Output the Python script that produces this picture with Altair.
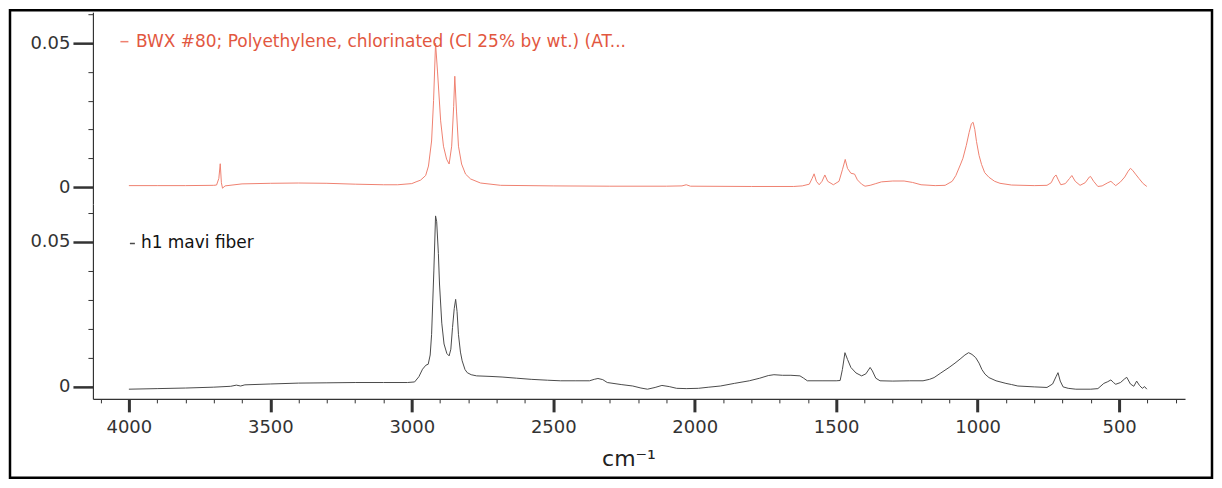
import altair as alt
import pandas as pd

# ---------------- data ----------------
red_name = "BWX #80; Polyethylene, chlorinated (Cl 25% by wt.) (AT..."
blk_name = "h1 mavi fiber"

red_wn = [4000, 3900, 3800, 3700, 3690, 3682, 3677, 3673, 3669, 3660, 3600, 3500, 3400, 3300,
          3200, 3100, 3050, 3000, 2985, 2969, 2951, 2941, 2930, 2923, 2916, 2909, 2898, 2888,
          2877, 2868, 2859, 2852, 2848, 2842, 2835, 2824, 2810, 2792, 2757, 2686, 2500, 2300,
          2100, 2045, 2030, 2015, 1800, 1650, 1620, 1595, 1585, 1578, 1570, 1560, 1550, 1540,
          1530, 1510, 1490, 1478, 1468, 1460, 1448, 1435, 1425, 1410, 1398, 1380, 1360, 1340,
          1300, 1260, 1230, 1200, 1150, 1115, 1090, 1077, 1060, 1052, 1040, 1030, 1022, 1016,
          1010, 1004, 995, 986, 975, 960, 940, 921, 880, 800, 755, 740, 730, 723, 715, 706, 690,
          675, 667, 655, 638, 620, 605, 601, 590, 575, 560, 540, 529, 520, 512, 495, 480, 468,
          460, 452, 442, 430, 415, 402]
red_abs = [0.0005, 0.0005, 0.0005, 0.0006, 0.0007, 0.0030, 0.0081, 0.0015, -0.0004, 0.0004,
           0.0011, 0.0013, 0.0014, 0.0013, 0.0010, 0.0008, 0.0008, 0.0012, 0.0018, 0.0024,
           0.0040, 0.0073, 0.0160, 0.0300, 0.0500, 0.0400, 0.0230, 0.0142, 0.0097, 0.0080,
           0.0142, 0.0280, 0.0385, 0.0264, 0.0142, 0.0080, 0.0045, 0.0028, 0.0014, 0.0006,
           0.0004, 0.0003, 0.0003, 0.0004, 0.0008, 0.0003, 0.0002, 0.0002, 0.0004, 0.0010,
           0.0030, 0.0046, 0.0020, 0.0008, 0.0020, 0.0042, 0.0020, 0.0008, 0.0020, 0.0060,
           0.0096, 0.0065, 0.0048, 0.0045, 0.0025, 0.0010, 0.0003, 0.0006, 0.0012, 0.0018,
           0.0021, 0.0021, 0.0016, 0.0008, 0.0005, 0.0006, 0.0020, 0.0040, 0.0080, 0.0100,
           0.0145, 0.0190, 0.0220, 0.0225, 0.0200, 0.0158, 0.0110, 0.0078, 0.0050, 0.0034,
           0.0020, 0.0013, 0.0007, 0.0005, 0.0006, 0.0015, 0.0035, 0.0042, 0.0025, 0.0008,
           0.0012, 0.0030, 0.0040, 0.0020, 0.0006, 0.0015, 0.0035, 0.0037, 0.0020, 0.0002,
           0.0004, 0.0015, 0.0020, 0.0012, 0.0005, 0.0018, 0.0035, 0.0055, 0.0065, 0.0058,
           0.0045, 0.0030, 0.0012, 0.0002]

blk_wn = [4000, 3900, 3800, 3700, 3640, 3620, 3605, 3590, 3500, 3400, 3300, 3200, 3100, 3015,
          2990, 2975, 2962, 2950, 2942, 2935, 2930, 2922, 2916, 2912, 2906, 2902, 2894, 2886,
          2876, 2868, 2862, 2856, 2850, 2845, 2840, 2835, 2828, 2822, 2812, 2804, 2790, 2771,
          2720, 2681, 2630, 2578, 2520, 2475, 2420, 2372, 2355, 2342, 2325, 2309, 2260, 2219,
          2190, 2167, 2140, 2116, 2090, 2064, 2030, 1987, 1950, 1909, 1860, 1807, 1770, 1740,
          1720, 1690, 1660, 1628, 1615, 1602, 1550, 1500, 1486, 1478, 1469, 1460, 1448, 1430,
          1410, 1395, 1380, 1372, 1360, 1345, 1300, 1240, 1193, 1170, 1154, 1130, 1101, 1080,
          1062, 1045, 1032, 1020, 1007, 995, 985, 974, 960, 935, 900, 880, 858, 800, 755, 735,
          723, 716, 708, 698, 680, 653, 600, 575, 554, 540, 529, 520, 512, 495, 480, 473, 460,
          448, 438, 428, 418, 410, 402]
blk_abs = [-0.0008, -0.0006, -0.0004, -0.0001, 0.0002, 0.0006, 0.0003, 0.0007, 0.0010, 0.0013,
           0.0014, 0.0015, 0.0015, 0.0015, 0.0017, 0.0035, 0.0061, 0.0075, 0.0078, 0.0110,
           0.0180, 0.0400, 0.0590, 0.0570, 0.0460, 0.0355, 0.0220, 0.0148, 0.0115, 0.0107,
           0.0130, 0.0205, 0.0270, 0.0302, 0.0260, 0.0180, 0.0120, 0.0090, 0.0060, 0.0049,
           0.0042, 0.0038, 0.0036, 0.0034, 0.0030, 0.0026, 0.0023, 0.0021, 0.0021, 0.0021,
           0.0026, 0.0029, 0.0025, 0.0015, 0.0008, 0.0003, -0.0004, -0.0008, -0.0002, 0.0005,
           0.0001, -0.0005, -0.0006, -0.0005, -0.0001, 0.0003, 0.0012, 0.0021, 0.0030, 0.0039,
           0.0042, 0.0040, 0.0040, 0.0038, 0.0030, 0.0021, 0.0021, 0.0021, 0.0022, 0.0060,
           0.0118, 0.0095, 0.0067, 0.0048, 0.0038, 0.0045, 0.0067, 0.0055, 0.0030, 0.0021,
           0.0020, 0.0021, 0.0021, 0.0026, 0.0032, 0.0048, 0.0067, 0.0082, 0.0096, 0.0110,
           0.0118, 0.0112, 0.0101, 0.0082, 0.0060, 0.0044, 0.0032, 0.0021, 0.0012, 0.0008,
           0.0003, 0.0000, -0.0002, 0.0010, 0.0035, 0.0049, 0.0020, 0.0000, -0.0005, -0.0008,
           -0.0008, -0.0006, 0.0012, 0.0018, 0.0024, 0.0015, 0.0009, 0.0015, 0.0028, 0.0033,
           0.0010, 0.0002, 0.0020, 0.0005, -0.0005, 0.0001, -0.0008]

x_major = [4000, 3500, 3000, 2500, 2000, 1500, 1000, 500]
x_minor = [4100, 4000, 3900, 3800, 3700, 3600, 3500, 3400, 3300, 3200, 3100, 3000, 2900, 2800,
           2700, 2600, 2500, 2400, 2300, 2200, 2100, 2000, 1900, 1800, 1700, 1600, 1500, 1400,
           1300, 1200, 1100, 1000, 900, 800, 700, 600, 500, 400, 300]
y_major = [0, 0.05]
y_minor = [-0.01, 0, 0.01, 0.02, 0.03, 0.04, 0.05, 0.06]

# ---------------- styling ----------------
FONT = "DejaVu Sans"
RED_LINE = "#ef8170"
RED_TEXT = "#e2573f"
BLK_LINE = "#4a4a4a"
AX = "#333333"

W = 1093
H1 = 192
H2 = 195

xs = alt.Scale(domain=[267, 4127], reverse=True, nice=False, zero=False)
y1s = alt.Scale(domain=[-0.0059, 0.06076], nice=False, zero=False)
y2s = alt.Scale(domain=[-0.00414, 0.0631], nice=False, zero=False)

df_r = pd.DataFrame({"wn": red_wn, "absorb": red_abs, "series": red_name})
df_b = pd.DataFrame({"wn": blk_wn, "absorb": blk_abs, "series": blk_name})


def major_y():
    return alt.Axis(orient="left", values=y_major, format="~g", tickSize=20, tickWidth=2.5,
                    tickColor=AX, domainColor=AX, domainWidth=1.2, labelFont=FONT,
                    labelFontSize=18, labelColor=AX, labelPadding=3, grid=False, title=None)


def minor_y():
    return alt.Axis(orient="left", values=y_minor, labels=False, domain=False, tickSize=5,
                    tickWidth=1, tickColor=AX, grid=False, title=None)


def legend(x, y, size, offset, label_color):
    return alt.Legend(orient="none", legendX=x, legendY=y, title=None, padding=0,
                      symbolType="stroke", symbolSize=size, symbolStrokeWidth=1.5,
                      labelFont=FONT, labelFontSize=17, labelColor=label_color,
                      labelLimit=1000, labelOffset=offset)


# ---- top panel (reference spectrum) ----
top_minor = alt.Chart(df_r).mark_line(opacity=0).encode(
    x=alt.X("wn:Q", scale=xs, axis=None),
    y=alt.Y("absorb:Q", scale=y1s, axis=minor_y()),
)
top_line = alt.Chart(df_r).mark_line(strokeWidth=1, clip=True).encode(
    x=alt.X("wn:Q", scale=xs, axis=None),
    y=alt.Y("absorb:Q", scale=y1s, axis=major_y()),
    color=alt.Color("series:N", scale=alt.Scale(domain=[red_name], range=[RED_LINE]),
                    legend=legend(23, 21, 64, 3, RED_TEXT)),
)
top = alt.layer(top_minor, top_line).resolve_scale(y="independent").properties(width=W, height=H1)

# ---- bottom panel (sample spectrum) ----
bot_minor = alt.Chart(df_b).mark_line(opacity=0).encode(
    x=alt.X("wn:Q", scale=xs,
            axis=alt.Axis(orient="bottom", values=x_minor, labels=False, domain=False,
                          tickSize=4, tickWidth=1, tickColor=AX, grid=False, title=None)),
    y=alt.Y("absorb:Q", scale=y2s, axis=minor_y()),
)
bot_line = alt.Chart(df_b).mark_line(strokeWidth=1, clip=True).encode(
    x=alt.X("wn:Q", scale=xs,
            axis=alt.Axis(orient="bottom", values=x_major, format="d", tickSize=13,
                          tickWidth=3, tickColor=AX, domainColor=AX, domainWidth=1.2,
                          labelFont=FONT, labelFontSize=18, labelColor=AX, labelPadding=7,
                          grid=False, title="cm\u207b\u00b9", titleFont=FONT,
                          titleFontSize=22, titleFontWeight="normal", titleColor="#222222",
                          titleX=536, titlePadding=12)),
    y=alt.Y("absorb:Q", scale=y2s, axis=major_y()),
    color=alt.Color("series:N", scale=alt.Scale(domain=[blk_name], range=[BLK_LINE]),
                    legend=legend(31, 31, 25, 0, "#111111")),
)
frame = alt.Chart(pd.DataFrame({"f": [0]})).mark_rect(
    fillOpacity=0, stroke="#000000", strokeWidth=2.5, clip=False
).encode(
    x=alt.value(-83), x2=alt.value(1120), y=alt.value(-194), y2=alt.value(274)
)
bottom = alt.layer(bot_minor, bot_line, frame).resolve_scale(
    x="independent", y="independent").properties(width=W, height=H2)

chart = alt.vconcat(top, bottom, spacing=0, bounds="flush").resolve_scale(
    color="independent").properties(padding=0).configure_view(stroke=None)

chart.save("out.html", embed_options={"renderer": "svg", "actions": False})
